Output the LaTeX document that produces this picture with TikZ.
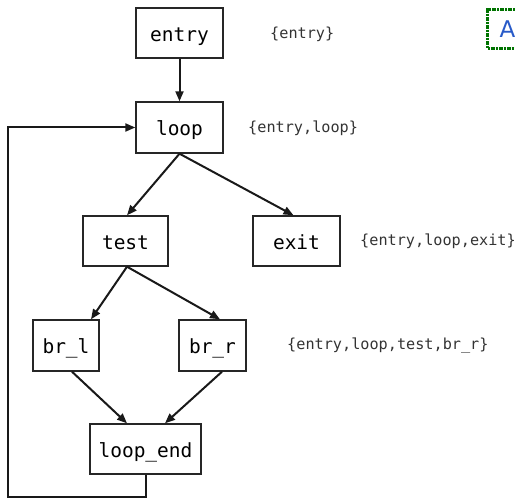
\documentclass[tikz,border=0pt]{standalone}
\usepackage{fontspec}
\setmonofont{DejaVu Sans Mono}
\newfontfamily\badgefont{DejaVu Sans}
\usetikzlibrary{arrows.meta}
\definecolor{badgeblue}{RGB}{40,90,200}
\begin{document}
\begin{tikzpicture}[x=1pt,y=-1pt,
  block/.style={draw=black!85, line width=1.4pt, fill=white, inner sep=0pt,
    text height=17pt, text depth=0pt,
    font=\ttfamily\fontsize{19.5}{19.5}\selectfont},
  setlabel/.style={anchor=west, inner sep=0pt, text=black!80,
    font=\ttfamily\fontsize{15.2}{15.2}\selectfont},
  edge/.style={draw=black!90, line width=2pt,
    -{Triangle[length=10pt,width=8pt]}}]
\useasboundingbox (0,0) rectangle (515,500);

% basic blocks of the loop
\node[block, minimum width=87pt, minimum height=50pt] (entry)   at (179.5,33)    {entry};
\node[block, minimum width=87pt, minimum height=51pt] (loop)    at (179.5,127.5) {loop};
\node[block, minimum width=85pt, minimum height=50pt] (test)    at (125.5,241)   {test};
\node[block, minimum width=87pt, minimum height=50pt] (exit)    at (296.5,241)   {exit};
\node[block, minimum width=66pt, minimum height=51pt] (brl)     at (66,345.5)    {br\_l};
\node[block, minimum width=67pt, minimum height=51pt] (brr)     at (212.5,345.5) {br\_r};
\node[block, minimum width=111pt, minimum height=50pt] (loopend) at (145.5,449)  {loop\_end};

% dominator sets
\node[setlabel] (dentry) at (270,34)  {\{entry\}};
\node[setlabel] (dloop)  at (248,128) {\{entry,loop\}};
\node[setlabel] (dexit)  at (360,241) {\{entry,loop,exit\}};
\node[setlabel] (dbrr)   at (287,345) {\{entry,loop,test,br\_r\}};

% control-flow edges
\draw[edge] (entry.south) -- (loop.north);
\draw[edge] (loop.south) -- ([xshift=1.5pt]test.north);
\draw[edge] (loop.south) -- ([xshift=-3pt]exit.north);
\draw[edge] ([xshift=1.5pt]test.south) -- ([xshift=25pt]brl.north);
\draw[edge] ([xshift=1.5pt]test.south) -- ([xshift=7.5pt]brr.north);
\draw[edge] ([xshift=6pt]brl.south) -- ([xshift=-18.5pt]loopend.north);
\draw[edge] ([xshift=9.5pt]brr.south) -- ([xshift=19.5pt]loopend.north);

% back edge
\coordinate (bl) at (8,497);
\draw[edge] (loopend.south) |- (bl) |- (loop.west);

% panel badge
\node[draw=green!45!black, line width=3pt, dash pattern=on 1.2pt off 0.4pt,
  minimum width=40pt, minimum height=39pt, inner sep=0pt, anchor=north west,
  text=badgeblue, font=\badgefont\fontsize{23}{23}\selectfont]
  (badge) at (486,8) {A};
\end{tikzpicture}
\end{document}
